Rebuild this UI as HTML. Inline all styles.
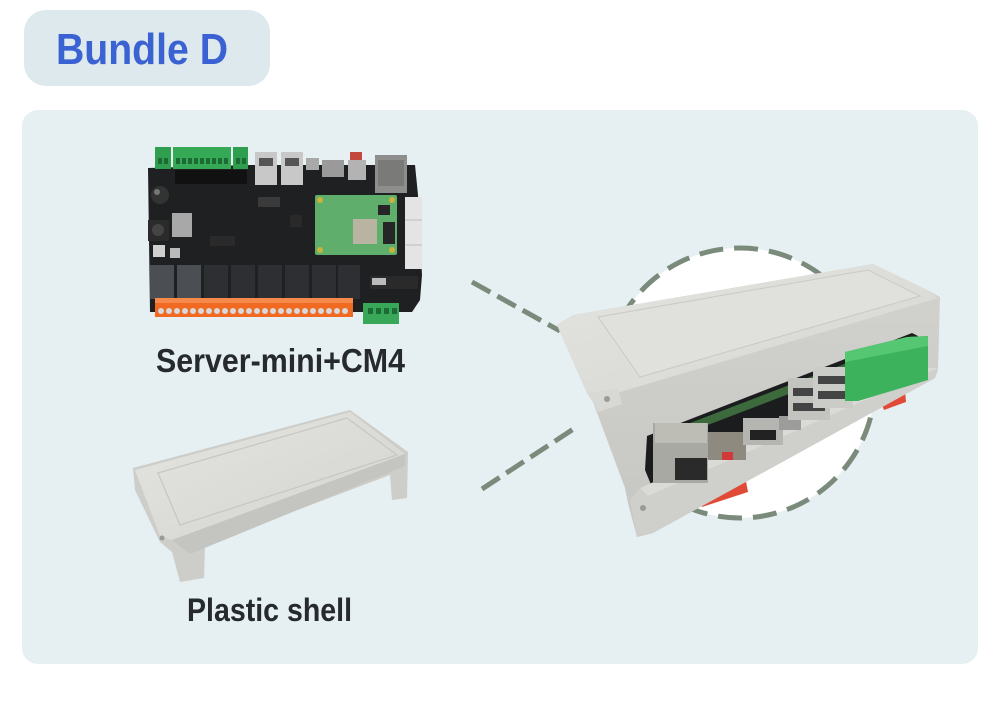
<!DOCTYPE html>
<html><head><meta charset="utf-8"><style>
html,body{margin:0;padding:0;background:#fff;}
svg{display:block;}
</style></head><body>
<svg width="1000" height="716" viewBox="0 0 1000 716" xmlns="http://www.w3.org/2000/svg">
<defs>
<linearGradient id="topg" x1="0" y1="0" x2="1" y2="1">
<stop offset="0" stop-color="#e3e3e0"/><stop offset="1" stop-color="#d6d6d2"/>
</linearGradient>
<linearGradient id="frg" x1="0" y1="0" x2="0" y2="1">
<stop offset="0" stop-color="#d2d2ce"/><stop offset="1" stop-color="#c6c6c2"/>
</linearGradient>
<linearGradient id="sh" x1="0" y1="0" x2="1" y2="1">
<stop offset="0" stop-color="#e4e4e1"/><stop offset="1" stop-color="#d3d3cf"/>
</linearGradient>
</defs>
<rect width="1000" height="716" fill="#ffffff"/>
<rect x="24" y="10" width="246" height="76" rx="22" fill="#dde9ec"/>
<text x="56" y="64" font-family="Liberation Sans, sans-serif" font-weight="bold" font-size="44" fill="#3a62d2" textLength="172" lengthAdjust="spacingAndGlyphs">Bundle D</text>
<rect x="22" y="110" width="956" height="554" rx="16" fill="#e6eff2"/>

<g stroke="#7a8a7b" stroke-width="5" fill="none">
<line x1="472" y1="282" x2="560" y2="331" stroke-dasharray="21 8"/>
<line x1="482" y1="489" x2="575" y2="428" stroke-dasharray="21 8"/>
<circle cx="740" cy="383" r="135" fill="#ffffff" stroke-dasharray="24 11"/>
</g>

<!-- PCB board -->
<g>
<polygon points="148,168 250,165 415,165 418,195 422,275 420,300 412,312 150,312" fill="#1f2022"/>
<rect x="155" y="147" width="16" height="22" fill="#2f9e4e"/>
<rect x="173" y="147" width="58" height="22" fill="#35a956"/>
<rect x="233" y="147" width="15" height="22" fill="#2f9e4e"/>
<g fill="#1c6b34">
<rect x="158" y="158" width="4" height="6"/><rect x="164" y="158" width="4" height="6"/>
<rect x="176" y="158" width="4" height="6"/><rect x="182" y="158" width="4" height="6"/><rect x="188" y="158" width="4" height="6"/><rect x="194" y="158" width="4" height="6"/><rect x="200" y="158" width="4" height="6"/><rect x="206" y="158" width="4" height="6"/><rect x="212" y="158" width="4" height="6"/><rect x="218" y="158" width="4" height="6"/><rect x="224" y="158" width="4" height="6"/>
<rect x="236" y="158" width="4" height="6"/><rect x="242" y="158" width="4" height="6"/>
</g>
<rect x="175" y="170" width="72" height="14" fill="#111"/>
<rect x="255" y="152" width="22" height="33" fill="#c8c8c8"/>
<rect x="259" y="158" width="14" height="8" fill="#555"/>
<rect x="281" y="152" width="22" height="33" fill="#c8c8c8"/>
<rect x="285" y="158" width="14" height="8" fill="#555"/>
<rect x="306" y="158" width="13" height="12" fill="#a9a9a9"/>
<rect x="322" y="160" width="22" height="17" fill="#9a9a9a"/>
<rect x="350" y="152" width="12" height="9" fill="#c4473d"/>
<rect x="348" y="160" width="18" height="20" fill="#b3b3b3"/>
<rect x="375" y="155" width="32" height="38" fill="#8e8e8c"/>
<rect x="378" y="160" width="26" height="26" fill="#7a7a78"/>
<circle cx="160" cy="195" r="9" fill="#333"/>
<circle cx="157" cy="192" r="3" fill="#777"/>
<rect x="148" y="220" width="21" height="21" fill="#2b2b2b"/>
<circle cx="158" cy="230" r="6" fill="#444"/>
<rect x="172" y="213" width="20" height="24" fill="#a8a8a8"/>
<rect x="153" y="245" width="12" height="12" fill="#cfcfcf"/>
<rect x="170" y="248" width="10" height="10" fill="#bbb"/>
<rect x="210" y="236" width="25" height="10" fill="#2a2a2a"/>
<rect x="258" y="197" width="22" height="10" fill="#3a3a3a"/>
<rect x="290" y="215" width="12" height="12" fill="#2a2a2a"/>
<rect x="315" y="195" width="82" height="60" rx="2" fill="#5fae6c"/>
<rect x="353" y="219" width="24" height="25" fill="#b9b4a2"/>
<rect x="378" y="205" width="12" height="10" fill="#262626"/>
<rect x="383" y="222" width="12" height="22" fill="#262626"/>
<circle cx="320" cy="200" r="3" fill="#c8b43a"/>
<circle cx="392" cy="200" r="3" fill="#c8b43a"/>
<circle cx="320" cy="250" r="3" fill="#c8b43a"/>
<circle cx="392" cy="250" r="3" fill="#c8b43a"/>
<rect x="405" y="197" width="17" height="72" fill="#e4e4e4"/>
<line x1="405" y1="220" x2="422" y2="220" stroke="#bbb"/>
<line x1="405" y1="245" x2="422" y2="245" stroke="#bbb"/>
<rect x="370" y="276" width="48" height="13" fill="#2a2a2a"/>
<rect x="372" y="278" width="14" height="7" fill="#bbb"/>
<rect x="150" y="265" width="24" height="34" fill="#4b4e53"/>
<rect x="177" y="265" width="24" height="34" fill="#4b4e53"/>
<rect x="204" y="265" width="24" height="34" fill="#2d2f33"/>
<rect x="231" y="265" width="24" height="34" fill="#2d2f33"/>
<rect x="258" y="265" width="24" height="34" fill="#2d2f33"/>
<rect x="285" y="265" width="24" height="34" fill="#2d2f33"/>
<rect x="312" y="265" width="24" height="34" fill="#2d2f33"/>
<rect x="338" y="265" width="22" height="34" fill="#2d2f33"/>
<rect x="155" y="298" width="198" height="19" fill="#f06a22"/>
<rect x="155" y="298" width="198" height="5" fill="#f58a4a"/>
<g fill="#d8d8d8">
<circle cx="161" cy="311" r="3"/><circle cx="169" cy="311" r="3"/><circle cx="177" cy="311" r="3"/><circle cx="185" cy="311" r="3"/><circle cx="193" cy="311" r="3"/><circle cx="201" cy="311" r="3"/><circle cx="209" cy="311" r="3"/><circle cx="217" cy="311" r="3"/><circle cx="225" cy="311" r="3"/><circle cx="233" cy="311" r="3"/><circle cx="241" cy="311" r="3"/><circle cx="249" cy="311" r="3"/><circle cx="257" cy="311" r="3"/><circle cx="265" cy="311" r="3"/><circle cx="273" cy="311" r="3"/><circle cx="281" cy="311" r="3"/><circle cx="289" cy="311" r="3"/><circle cx="297" cy="311" r="3"/><circle cx="305" cy="311" r="3"/><circle cx="313" cy="311" r="3"/><circle cx="321" cy="311" r="3"/><circle cx="329" cy="311" r="3"/><circle cx="337" cy="311" r="3"/><circle cx="345" cy="311" r="3"/>
</g>
<rect x="363" y="303" width="36" height="21" fill="#38a858"/>
<g fill="#1d6b36"><rect x="368" y="308" width="5" height="6"/><rect x="376" y="308" width="5" height="6"/><rect x="384" y="308" width="5" height="6"/><rect x="392" y="308" width="5" height="6"/></g>
</g>
<text x="156" y="372" font-family="Liberation Sans, sans-serif" font-weight="bold" font-size="33" fill="#262a2e" textLength="249" lengthAdjust="spacingAndGlyphs">Server-mini+CM4</text>

<!-- plastic shell -->
<g>
<polygon points="133,468 350,410 408,452 407,498 392,500 390,475 205,545 204,578 180,582 172,552 160,542 135,490" fill="#cdcdc9"/>
<polygon points="135,470 350,412 405,454 172,540 160,536" fill="url(#sh)"/>
<polygon points="158,473 347,418 397,455 180,525" fill="none" stroke="#c6c6c2" stroke-width="1.2"/>
<polygon points="172,540 405,454 405,466 190,554" fill="#c4c4c0"/>
<circle cx="162" cy="538" r="2.5" fill="#999"/>
</g>
<text x="187" y="621" font-family="Liberation Sans, sans-serif" font-weight="bold" font-size="32" fill="#262a2e" textLength="165" lengthAdjust="spacingAndGlyphs">Plastic shell</text>

<!-- enclosure -->
<g>
<!-- red feet (behind body) -->
<polygon points="698,495 745,476 748,492 702,507" fill="#e04a36"/>
<polygon points="880,400 905,390 906,402 884,410" fill="#e04a36"/>
<polygon points="557,325 573,315 873,264 927,290 940,297 938,370 935,378 653,533 637,537 628,503 625,488 593,402 587,393" fill="url(#frg)"/>
<polygon points="557,325 573,315 873,264 927,290 938,298 620,392 587,393" fill="url(#topg)"/>
<polygon points="598,317 868,270 920,296 640,377" fill="#e0e0dd" stroke="#c9c9c5" stroke-width="1"/>
<polygon points="587,393 618,388 622,404 598,412 593,402" fill="#d8d8d4"/>
<circle cx="607" cy="399" r="3" fill="#9a9a97"/>
<!-- opening -->
<polygon points="647,436 912,333 918,336 918,368 652,487 645,470" fill="#1b1c1e"/>
<polygon points="690,423 860,358 862,366 692,431" fill="#3d6a3c"/>
<!-- lower rail -->
<polygon points="640,488 918,368 938,368 935,378 653,533 637,537 630,500" fill="#cfcfcb"/>
<polygon points="640,488 918,368 938,368 648,496" fill="#dadad6"/>
<circle cx="643" cy="508" r="3" fill="#9a9a97"/>
<!-- ethernet -->
<rect x="653" y="423" width="55" height="60" fill="#a9a9a3"/>
<rect x="655" y="423" width="52" height="20" fill="#bdbdb6"/>
<rect x="675" y="458" width="32" height="22" fill="#2a2a2a"/>
<!-- sd -->
<rect x="708" y="432" width="38" height="28" fill="#8f8a80"/>
<rect x="722" y="452" width="11" height="8" fill="#d23a3a"/>
<!-- hdmi -->
<rect x="743" y="418" width="40" height="27" fill="#b5b5b2"/>
<rect x="750" y="430" width="26" height="10" fill="#222"/>
<rect x="779" y="416" width="22" height="14" fill="#9c9c9a"/>
<!-- usb -->
<rect x="788" y="378" width="42" height="42" fill="#c3c3c0"/>
<rect x="793" y="388" width="32" height="8" fill="#444"/>
<rect x="793" y="403" width="32" height="8" fill="#444"/>
<rect x="813" y="367" width="40" height="41" fill="#cbcbc8"/>
<rect x="818" y="376" width="30" height="8" fill="#444"/>
<rect x="818" y="391" width="30" height="8" fill="#444"/>
<!-- green terminal -->
<polygon points="845,352 907,337 928,336 928,380 858,401 845,401" fill="#3cb25c"/>
<polygon points="845,352 907,337 928,336 928,346 845,362" fill="#55c672"/>
</g>
</svg>
</body></html>
